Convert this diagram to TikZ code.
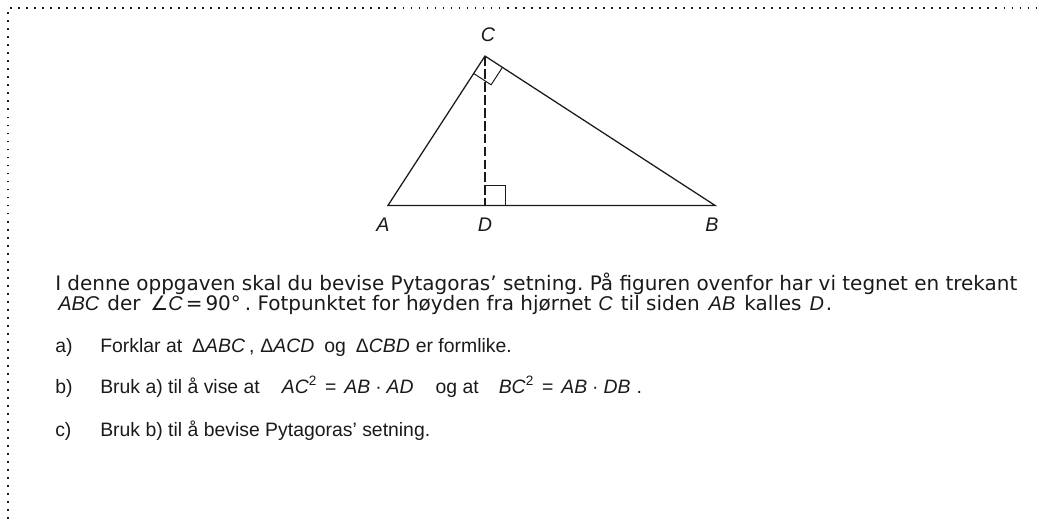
\documentclass[tikz,border=0pt]{standalone}
\usepackage{fontspec}
\setmainfont{Liberation Sans}
\newfontfamily\tegn{DejaVu Sans}
\usetikzlibrary{positioning, calc}
\definecolor{tInk}{HTML}{1A1A1A}
\newlength\pxl
\setlength\pxl{0.025cm}
\newcommand{\mi}[1]{{\rmfamily\itshape #1}}
\newcommand{\mellom}[1]{\hspace{#1\pxl}}
\frenchspacing
\tikzset{
  side/.style={draw=tInk, line width=0.9pt},
  hoyde/.style={draw=tInk, line width=0.8pt, dash pattern=on 7pt off 2.2pt},
  vinkel/.style={draw=tInk, line width=0.7pt},
  hjorne/.style={font=\fontsize{14}{16}\selectfont\itshape, text=tInk, inner sep=0pt},
  tekst/.style={anchor=base west, font=\fontsize{13.8}{14.2}\selectfont, text=tInk, inner sep=0pt},
  ingress/.style={tekst, font=\fontsize{14.2}{14.2}\selectfont\tegn, align=left}
}
\tikzset{ramme/.style={draw=tInk, line width=1.3pt, dash pattern=on 1.3pt off 4.4pt}}

\begin{document}
\begin{tikzpicture}
  \useasboundingbox (0,0) rectangle (26,12.975);
  % dotted frame
  \coordinate (rNed) at (0.2,0);
  \coordinate (rHjorne) at (0.2,12.775);
  \coordinate (rHoyre) at (26,12.775);
  \draw[ramme] (rNed) -- (rHjorne) -- (rHoyre);
  % triangle
  \coordinate (A) at (9.70,7.84);
  \coordinate (B) at (17.875,7.84);
  \coordinate (D) at (12.125,7.84);
  \coordinate (C) at (12.125,11.574);
  \draw[side] (A) -- (B) -- (C) -- cycle;
  \draw[hoyde] (C) -- (D);
  \draw[vinkel] ($(D)+(0,0.5)$) -- ($(D)+(0.5,0.5)$) -- ($(D)+(0.5,0)$);
  \coordinate (ca) at ($(C)!0.52cm!(A)$);
  \coordinate (cb) at ($(C)!0.52cm!(B)$);
  \draw[vinkel] (ca) -- ($(ca)+(cb)-(C)$) -- (cb);
  \node[hjorne] (lC) at (12.2,12.1) {C};
  \node[hjorne] (lA) at (9.575,7.35) {A};
  \node[hjorne] (lD) at (12.125,7.35) {D};
  \node[hjorne] (lB) at (17.8,7.35) {B};
  % text
  \node[ingress] (innledning) at (1.375,5.225) {I denne oppgaven skal du bevise Pytagoras’ setning. På figuren ovenfor har vi tegnet en trekant\\
    \hspace*{3\pxl}\mi{ABC}\mellom{8}der\mellom{10}∠\mi{C}\mellom{3}=\mellom{3}90°\mellom{4}. Fotpunktet for høyden fra hjørnet\mellom{7}\mi{C}\mellom{8}til siden\mellom{9}\mi{AB}\mellom{9}kalles\mellom{8}\mi{D}\mellom{2}.};
  \node[tekst] (bokA) at (1.375,4.175) {a)};
  \node[tekst] (oppgA) at (2.5,4.175) {Forklar at\mellom{10}Δ\mi{ABC}\mellom{4},\mellom{6}Δ\mi{ACD}\mellom{10}og\mellom{10}Δ\mi{CBD}\mellom{6}er formlike.};
  \node[tekst] (bokB) at (1.375,3.15) {b)};
  \node[tekst] (oppgB) at (2.5,3.15) {Bruk a) til å vise at\mellom{22}\mi{AC}\textsuperscript{2}\mellom{8}=\mellom{8}\mi{AB}\mellom{5}·\mellom{5}\mi{AD}\mellom{22}og at\mellom{20}\mi{BC}\textsuperscript{2}\mellom{8}=\mellom{8}\mi{AB}\mellom{5}·\mellom{5}\mi{DB}\mellom{6}.};
  \node[tekst] (bokC) at (1.375,2.075) {c)};
  \node[tekst] (oppgC) at (2.5,2.075) {Bruk b) til å bevise Pytagoras’ setning.};
\end{tikzpicture}
\end{document}
